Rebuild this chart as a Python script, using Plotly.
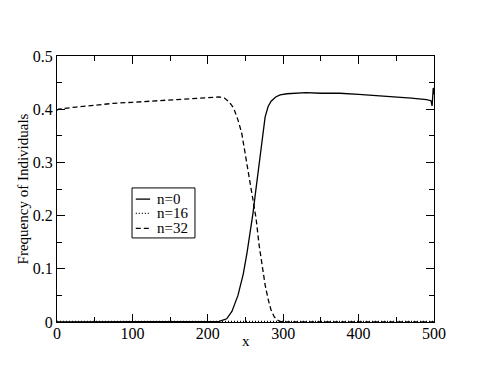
"""Frequency of individuals along x for three n classes."""

import plotly.graph_objects as go

# n=0 (solid)
x_n0 = [0, 50, 100, 150, 200, 215, 225, 232, 240, 247, 252, 256, 260, 263, 266, 269,
        272, 276, 280, 284, 290, 296, 305, 315, 330, 350, 375, 400, 425, 450, 470,
        490, 496, 497.5, 499, 500]
y_n0 = [0, 0, 0, 0, 0, 0.001, 0.006, 0.02, 0.05, 0.09, 0.13, 0.165, 0.205, 0.24, 0.275,
        0.315, 0.35, 0.385, 0.405, 0.415, 0.423, 0.427, 0.429, 0.430, 0.431, 0.430,
        0.430, 0.428, 0.426, 0.423, 0.421, 0.418, 0.416, 0.406, 0.440, 0.428]

# n=16 (dotted)
x_n16 = [0, 100, 150, 200, 250, 300, 350, 400, 500]
y_n16 = [0.001, 0.001, 0.002, 0.002, 0.002, 0.002, 0.001, 0.001, 0.001]

# n=32 (dashed)
x_n32 = [0, 2, 25, 50, 75, 100, 125, 150, 175, 200, 215, 222, 228, 234, 240, 245, 250,
         255, 260, 264, 268, 272, 276, 280, 284, 288, 292, 296, 300, 350, 400, 450, 500]
y_n32 = [0.398, 0.400, 0.404, 0.408, 0.411, 0.413, 0.415, 0.418, 0.420, 0.422, 0.423,
         0.421, 0.414, 0.403, 0.380, 0.355, 0.315, 0.27, 0.235, 0.195, 0.145, 0.105,
         0.07, 0.043, 0.022, 0.010, 0.004, 0.001, 0, 0, 0, 0, 0]

series_names = ['n=0', 'n=16', 'n=32']
series_dash = ['solid', '1px,2px', '5px,3px']

serif = "Liberation Serif"

fig = go.Figure()
for name, xs, ys, dash in zip(series_names, [x_n0, x_n16, x_n32],
                              [y_n0, y_n16, y_n32], series_dash):
    fig.add_trace(go.Scatter(x=xs, y=ys, mode='lines', name=name, showlegend=False,
                             line=dict(color='black', width=1.3, dash=dash)))

# Legend drawn as a boxed key in paper coordinates (compact, like the original)
fig.add_shape(type='rect', xref='paper', yref='paper', x0=0.199, x1=0.366,
              y0=0.316, y1=0.504, line=dict(color='black', width=1), fillcolor='white')
row_y = [0.462, 0.408, 0.352]
for name, dash, ry in zip(series_names, series_dash, row_y):
    fig.add_shape(type='line', xref='paper', yref='paper', x0=0.209, x1=0.247,
                  y0=ry, y1=ry, line=dict(color='black', width=1.3, dash=dash))
    fig.add_annotation(x=0.262, y=ry, xref='paper', yref='paper', text=name,
                       showarrow=False, xanchor='left', yanchor='middle',
                       height=14, borderpad=0,
                       font=dict(family=serif, size=15, color='black'))

# x-axis title placed close under the tick labels
fig.add_annotation(x=0.5, y=0, xref='paper', yref='paper', text='x',
                   showarrow=False, xanchor='center', yanchor='top', yshift=-9,
                   font=dict(family=serif, size=15, color='black'))

axis_common = dict(showgrid=False, zeroline=False, showline=True, linecolor='black',
                   linewidth=1, mirror='ticks', ticks='inside', ticklen=8,
                   tickcolor='black', automargin=False,
                   tickfont=dict(family=serif, size=16, color='black'))

fig.update_xaxes(range=[0, 500], dtick=100, ticklabelstandoff=-3,
                 minor=dict(ticks='inside', ticklen=5, dtick=50, tickcolor='black'),
                 **axis_common)
fig.update_yaxes(range=[0, 0.5], dtick=0.1, tickformat='.1~f',
                 title=dict(text='Frequency of Individuals', standoff=0,
                            font=dict(family=serif, size=15, color='black')),
                 minor=dict(ticks='inside', ticklen=5, dtick=0.05, tickcolor='black'),
                 **axis_common)

fig.update_layout(
    width=488, height=378,
    margin=dict(l=49, r=62, t=48, b=64),
    font=dict(family=serif),
    plot_bgcolor='white', paper_bgcolor='white',
    showlegend=False,
)

fig.write_html("out.html")
